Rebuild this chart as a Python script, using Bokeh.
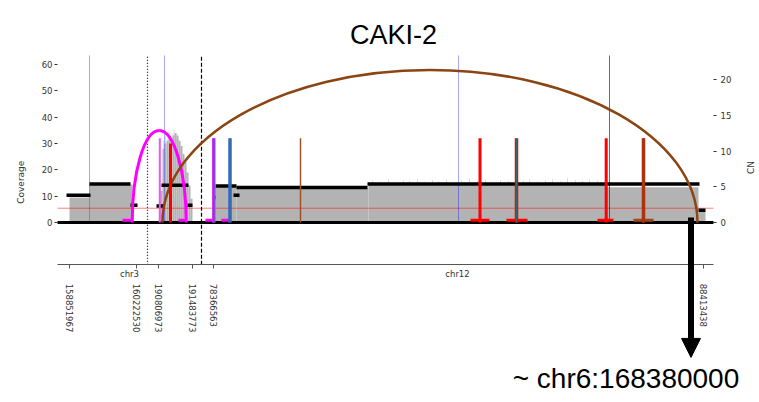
from math import pi

from bokeh.plotting import figure
from bokeh.models import Range1d, LinearAxis, FixedTicker, Label, Arrow, NormalHead
from bokeh.core.properties import value
from bokeh.embed import file_html
from bokeh.resources import INLINE

# ---------------------------------------------------------------------------
# Data. x is a display coordinate along the concatenated chr3 | chr12 track.
# ---------------------------------------------------------------------------
chrom_names = ["chr3", "chr12"]
chrom_start = [0, 144]
chrom_end = [144, 656]

tick_pos = [12, 79, 101, 135, 156, 646]
tick_labels = ["158851967", "160222530", "190806973", "191483773", "78366563", "88413438"]

# read coverage, piecewise
cov_left = [12, 32, 156, 179, 311, 548, 641]
cov_right = [32, 75, 179, 311, 548, 641, 648]
cov_level = [9.5, 14.4, 13.6, 12.9, 14.6, 13.4, 4.5]

# amplified region (2-unit bins)
amp_left = [103, 105, 107, 109, 111, 113, 115, 117, 119, 121, 123, 125, 127, 129, 131, 133]
amp_cov = [12, 28, 30, 31, 33, 32, 33, 34, 33, 31, 29, 26, 23, 19, 14, 9]

# single-bin coverage peaks
peak_x = [106, 108, 110.5, 112.5, 114.5, 116.5, 118.5, 120.5, 122.5, 125.5, 128.5,
          190, 214, 236, 262, 288,
          315, 323, 331, 338, 346, 352, 360, 367, 375, 381, 389, 396, 404, 412, 420,
          428, 435, 443, 451, 458, 466, 472, 480, 488, 495, 503, 510, 518, 525, 532, 540]
peak_cov = [31, 33, 34.5, 35, 34, 35.5, 34, 32, 30, 25, 19,
            13.8, 13.6, 13.9, 13.7, 13.6,
            16.0, 15.6, 16.3, 15.5, 16.0, 15.8, 16.4, 15.6, 16.1, 15.7, 16.2, 15.5, 16.0,
            16.5, 15.7, 16.2, 15.6, 16.1, 15.8, 16.6, 15.9, 16.3, 15.6, 16.0, 16.4, 15.7,
            16.9, 16.1, 15.8, 16.3, 15.9]

# copy-number segments
cn_start = [9, 32, 73, 99, 104, 130, 155, 158, 176, 179, 310, 641]
cn_end = [33, 73, 80, 106, 131, 135, 158, 179, 182, 310, 642, 648]
cn_value = [3.8, 5.4, 2.4, 2.3, 5.2, 2.4, 3.5, 5.1, 3.8, 4.9, 5.4, 1.7]
cn_normal = 2

# structural-variant arcs (start, end, height in coverage units)
arc_start = [74.7, 105]
arc_end = [128.7, 640]
arc_height = [34.9, 57.9]
arc_color = ["#ff00ff", "#8b4513"]
arc_width = [3, 2.5]

# breakpoint markers
bp_x = [102.3, 113, 156.3, 156.3, 172.5, 172.5, 243, 422.5, 459, 459, 548.7, 586, 586]
bp_height = [32, 30, 32, 32, 32, 32, 32, 32, 32, 32, 32, 32, 32]
bp_color = ["#ee55ee", "#ff0000", "#e030f0", "#8040e0", "#3d5fd0", "#2c7a8a", "#a0522d",
            "#ff0000", "#ff0000", "#2e6b6b", "#ff0000", "#ff0000", "#8b4513"]
bp_width = [2, 3, 3.5, 2, 3.5, 1.2, 1.5, 3, 3.5, 1.2, 3, 3.5, 2.5]

# breakpoint orientation feet
foot_start = [65, 121, 148, 164, 413, 449, 540, 576]
foot_end = [75, 129, 156, 173, 432, 470, 556, 596]
foot_color = ["#ff00ff", "#ff00ff", "#ff00ff", "#ff00ff", "#ff0000", "#ff0000", "#ff0000", "#a0461e"]

# discordant-read positions
disc_x = [32, 107, 401, 552]
disc_alpha = [0.35, 0.35, 0.35, 0.65]

region_bound_dotted = 90
region_bound_dashed = 144

# partner locus of the long-range junction
partner_x = 633.5
partner_text = "~ chr6:168380000"

# ---------------------------------------------------------------------------
# The frame fills the whole canvas; axes sit at fixed data locations.
X_RANGE = (-57, 702)
COV_RANGE = (-68.31, 84.25)
CN_RANGE = (-25.17, 31.05)
TRACK_X = (0, 656)
COV_TOP = 63.4
AXIS_Y = -16
TICK_FONT = "DejaVu Sans"
TICK_SIZE = "8.5px"
TICK_COLOR = "#333333"

p = figure(width=759, height=402, output_backend="svg", toolbar_location=None,
           x_range=Range1d(*X_RANGE), y_range=Range1d(*COV_RANGE),
           x_axis_location=None, y_axis_location=None,
           min_border_left=0, min_border_right=0, min_border_top=0, min_border_bottom=0)
p.outline_line_color = None
p.grid.visible = False
p.background_fill_color = "white"
p.border_fill_color = "white"
p.extra_y_ranges = {"cn": Range1d(*CN_RANGE)}


def style_axis(ax, standoff, tick_out):
    ax.major_tick_in = 0
    ax.major_tick_out = tick_out
    ax.minor_tick_line_color = None
    ax.major_tick_line_color = TICK_COLOR
    ax.major_label_standoff = standoff
    ax.major_label_text_font = TICK_FONT
    ax.major_label_text_font_size = TICK_SIZE
    ax.major_label_text_color = TICK_COLOR


# left axis: coverage
ya = LinearAxis(fixed_location=TRACK_X[0], ticker=FixedTicker(ticks=[0, 10, 20, 30, 40, 50, 60]))
ya.axis_line_color = None
style_axis(ya, 2, 3)
p.add_layout(ya, "left")

# right axis: copy number
ra = LinearAxis(y_range_name="cn", fixed_location=TRACK_X[1],
                ticker=FixedTicker(ticks=[0, 5, 10, 15, 20]))
ra.axis_line_color = None
style_axis(ra, 4, 3)
p.add_layout(ra, "right")

# bottom axis: genomic breakpoints
xa = LinearAxis(fixed_location=AXIS_Y, ticker=FixedTicker(ticks=tick_pos), bounds=TRACK_X)
xa.major_label_overrides = {t: s for t, s in zip(tick_pos, tick_labels)}
xa.major_label_orientation = "vertical"
xa.axis_line_color = "#555555"
xa.axis_line_width = 1
style_axis(xa, 15, 4)
xa.major_tick_line_color = "#555555"
p.add_layout(xa, "below")

# coverage
p.vbar(x=peak_x, width=0.8, bottom=0, top=peak_cov, fill_color="#d3d3d3", line_color=None)
p.quad(left=cov_left, right=cov_right, bottom=0, top=cov_level,
       fill_color="#b3b3b3", line_color=None)
p.quad(left=amp_left, right=[a + 2 for a in amp_left], bottom=0, top=amp_cov,
       fill_color="#b3b3b3", line_color=None)

# normal copy-number reference
p.segment(x0=[TRACK_X[0]], x1=[TRACK_X[1]], y0=[cn_normal], y1=[cn_normal], y_range_name="cn",
          line_color="#ff0000", line_alpha=0.5, line_width=1)

# discordant reads
p.segment(x0=disc_x, x1=disc_x, y0=[0] * len(disc_x), y1=[COV_TOP] * len(disc_x),
          line_color="#0000ff", line_alpha=disc_alpha, line_width=1)

# baseline
p.segment(x0=[TRACK_X[0]], x1=[TRACK_X[1]], y0=[0], y1=[0], line_color="black", line_width=3)

# copy-number segments
p.segment(x0=cn_start, x1=cn_end, y0=cn_value, y1=cn_value, y_range_name="cn",
          line_color="black", line_width=3.5, line_cap="butt")

# region boundaries
p.segment(x0=[region_bound_dotted], x1=[region_bound_dotted], y0=[AXIS_Y], y1=[COV_TOP],
          line_color="black", line_width=1.2, line_dash="1 2")
p.segment(x0=[region_bound_dashed], x1=[region_bound_dashed], y0=[AXIS_Y], y1=[COV_TOP],
          line_color="black", line_width=1.2, line_dash="4 2")

# SV arcs as half ellipses (two cubic Beziers each)
K = 0.5523
for xs, xe, h, c, w in zip(arc_start, arc_end, arc_height, arc_color, arc_width):
    xm = (xs + xe) / 2
    a = (xe - xs) / 2
    p.bezier(x0=[xs, xm], y0=[0, h], x1=[xm, xe], y1=[h, 0],
             cx0=[xs, xm + K * a], cy0=[K * h, h], cx1=[xm - K * a, xe], cy1=[h, K * h],
             line_color=c, line_width=w)

# breakpoint markers
p.segment(x0=foot_start, x1=foot_end, y0=[0.9] * len(foot_start), y1=[0.9] * len(foot_start),
          line_color=foot_color, line_width=3)
p.segment(x0=bp_x, x1=bp_x, y0=[0] * len(bp_x), y1=bp_height,
          line_color=bp_color, line_width=bp_width, line_cap="butt")

# chromosome names
p.text(x=[(s + e) / 2 for s, e in zip(chrom_start, chrom_end)], y=[-19.4] * len(chrom_names),
       text=chrom_names, text_font=value(TICK_FONT), text_font_size=TICK_SIZE,
       text_color=TICK_COLOR, text_align="center", text_baseline="middle")

# partner locus arrow
p.add_layout(Arrow(x_start=partner_x, y_start=1.9, x_end=partner_x, y_end=-51.2,
                   line_color="black", line_width=6, start=None,
                   end=NormalHead(size=19, fill_color="black", line_color="black", line_width=1)))
p.add_layout(Label(x=568.5, y=-59.2, text=partner_text, text_font="Liberation Sans",
                   text_font_size="28px", text_color="black", text_align="center",
                   text_baseline="middle"))

# titles
p.add_layout(Label(x=336, y=71.0, text="CAKI-2", text_font="Liberation Sans",
                   text_font_size="27px", text_color="black", text_align="center",
                   text_baseline="middle"))
p.add_layout(Label(x=-37, y=15.3, text="Coverage", angle=pi / 2, text_font=TICK_FONT,
                   text_font_size="9px", text_color=TICK_COLOR, text_align="center",
                   text_baseline="middle"))
p.add_layout(Label(x=693, y=7.7, y_range_name="cn", text="CN", angle=pi / 2, text_font=TICK_FONT,
                   text_font_size="9px", text_color=TICK_COLOR, text_align="center",
                   text_baseline="middle"))

open("out.html", "w").write(file_html(p, INLINE))
